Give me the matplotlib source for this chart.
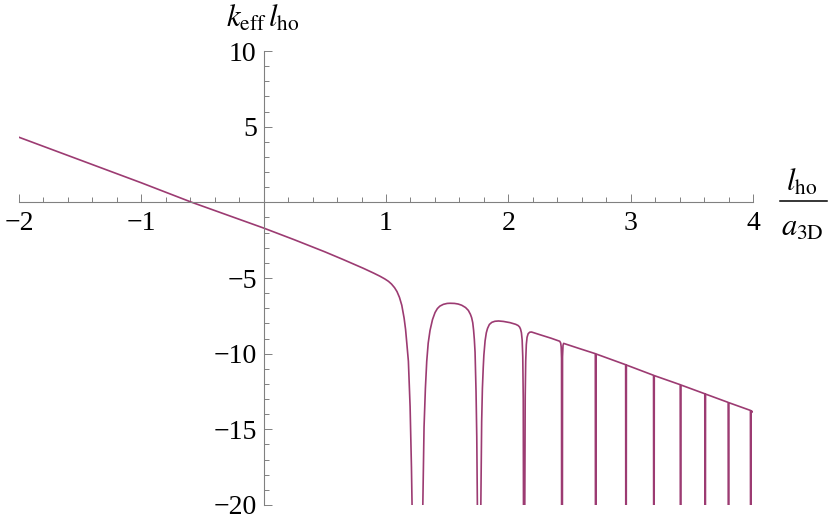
import matplotlib
matplotlib.use("Agg")
import matplotlib.pyplot as plt
from matplotlib.lines import Line2D
from matplotlib.ticker import FixedLocator, MultipleLocator

plt.rcParams['font.family'] = ['Liberation Serif', 'DejaVu Serif']
plt.rcParams['mathtext.fontset'] = 'stix'

# values (x = l_ho/a_3D, y = k_eff l_ho)
# poles are drawn to -40 so they leave the visible range at the bottom
x_vals = [
    -2.0, -1.0, -0.587, 0.0, 0.25, 0.5, 0.65, 0.815, 0.90, 0.95, 0.99, 1.02, 1.045, 1.07,
    1.09, 1.11, 1.129, 1.148, 1.16, 1.17, 1.183, 1.197, 1.208, 1.215, 1.22,
    1.295, 1.30, 1.311, 1.322, 1.333, 1.345, 1.36, 1.38, 1.401, 1.42, 1.44, 1.469, 1.50,
    1.524, 1.56, 1.59, 1.619, 1.65, 1.673, 1.69, 1.70, 1.709, 1.716, 1.722, 1.728, 1.736,
    1.742, 1.748, 1.752,
    1.77, 1.774, 1.782, 1.788, 1.795, 1.80, 1.81, 1.82, 1.83, 1.845, 1.865, 1.89, 1.92,
    1.96, 2.014, 2.06, 2.08, 2.092, 2.10, 2.107, 2.113, 2.118, 2.122, 2.124, 2.126,
    2.13, 2.134, 2.138, 2.142, 2.147, 2.153, 2.162, 2.175, 2.19, 2.259, 2.35, 2.42,
    2.428, 2.432, 2.435, 2.436,
    2.44, 2.443, 2.447, 2.452, 2.58,
    2.711, 2.714, 2.717,
    2.959, 2.962, 2.965,
    3.187, 3.190, 3.193,
    3.405, 3.408, 3.411,
    3.606, 3.609, 3.612,
    3.797, 3.800, 3.803,
    3.979, 3.982, 3.985,
    4.0,
]
y_vals = [
    4.30, 1.29, 0.0, -1.70, -2.47, -3.27, -3.78, -4.36, -4.68, -4.88, -5.06, -5.22, -5.40, -5.64,
    -5.90, -6.28, -6.80, -7.65, -8.40, -9.30, -10.5, -13.5, -17.5, -21.0, -40.0,
    -40.0, -20.5, -14.85, -12.3, -10.5, -9.3, -8.46, -7.75, -7.28, -7.02, -6.86, -6.74, -6.68,
    -6.67, -6.68, -6.72, -6.80, -6.95, -7.14, -7.40, -7.62, -7.95, -8.45, -9.05, -9.90, -12.5,
    -15.5, -21.0, -40.0,
    -40.0, -21.0, -14.5, -12.3, -10.9, -10.1, -9.15, -8.62, -8.33, -8.07, -7.93, -7.86, -7.84,
    -7.87, -7.95, -8.06, -8.14, -8.24, -8.38, -8.62, -9.10, -10.2, -13.0, -21.0, -40.0,
    -40.0, -21.0, -12.8, -10.5, -9.40, -8.92, -8.68, -8.58, -8.57, -8.75, -8.98, -9.18,
    -9.30, -9.55, -10.3, -40.0,
    -40.0, -10.2, -9.45, -9.32, -9.66,
    -10.0, -40.0, -10.02,
    -10.73, -40.0, -10.75,
    -11.43, -40.0, -11.45,
    -12.05, -40.0, -12.07,
    -12.65, -40.0, -12.67,
    -13.22, -40.0, -13.24,
    -13.75, -40.0, -13.77,
    -13.86,
]

x_major = [-2, -1, 1, 2, 3, 4]
y_major = [-20, -15, -10, -5, 5, 10]

line_color = '#9c3b72'
axis_color = '#808080'

fig = plt.figure(figsize=(8.3, 5.21), dpi=100)
ax = fig.add_axes([19 / 830, 1 - 505 / 521, 734 / 830, 454 / 521])

ax.plot(x_vals, y_vals, color=line_color, lw=1.2, solid_joinstyle='round')

ax.set_xlim(-2, 4)
ax.set_ylim(-20, 10)

ax.spines['left'].set_position(('data', 0))
ax.spines['bottom'].set_position(('data', 0))
ax.spines['top'].set_visible(False)
ax.spines['right'].set_visible(False)
for s in ('left', 'bottom'):
    ax.spines[s].set_color(axis_color)
    ax.spines[s].set_linewidth(0.8)

ax.xaxis.set_major_locator(FixedLocator(x_major))
ax.xaxis.set_minor_locator(MultipleLocator(0.2))
ax.yaxis.set_major_locator(FixedLocator(y_major))
ax.yaxis.set_minor_locator(MultipleLocator(1))

ax.tick_params(which='both', direction='in', color=axis_color, width=0.7, labelsize=20)
ax.tick_params(which='major', length=6)
ax.tick_params(which='minor', length=3.6)
ax.tick_params(axis='x', pad=6)
ax.tick_params(axis='y', pad=5)

# y axis label above the axis
fig.text(263 / 830, 1 - 19 / 521, r'$k_{\mathrm{eff}}\,l_{\mathrm{ho}}$',
         ha='center', va='center', fontsize=22)

# x axis label as a built-up fraction right of the axis
fig.text(802 / 830, 1 - 191 / 521, r'$l_{\mathrm{ho}}$',
         ha='center', va='baseline', fontsize=22)
fig.add_artist(Line2D([780 / 830, 827 / 830], [1 - 201 / 521, 1 - 201 / 521],
                      color='black', lw=1.1))
fig.text(802 / 830, 1 - 236 / 521, r'$a_{\mathrm{3D}}$',
         ha='center', va='baseline', fontsize=22)

fig.savefig('out.png', dpi=100)
